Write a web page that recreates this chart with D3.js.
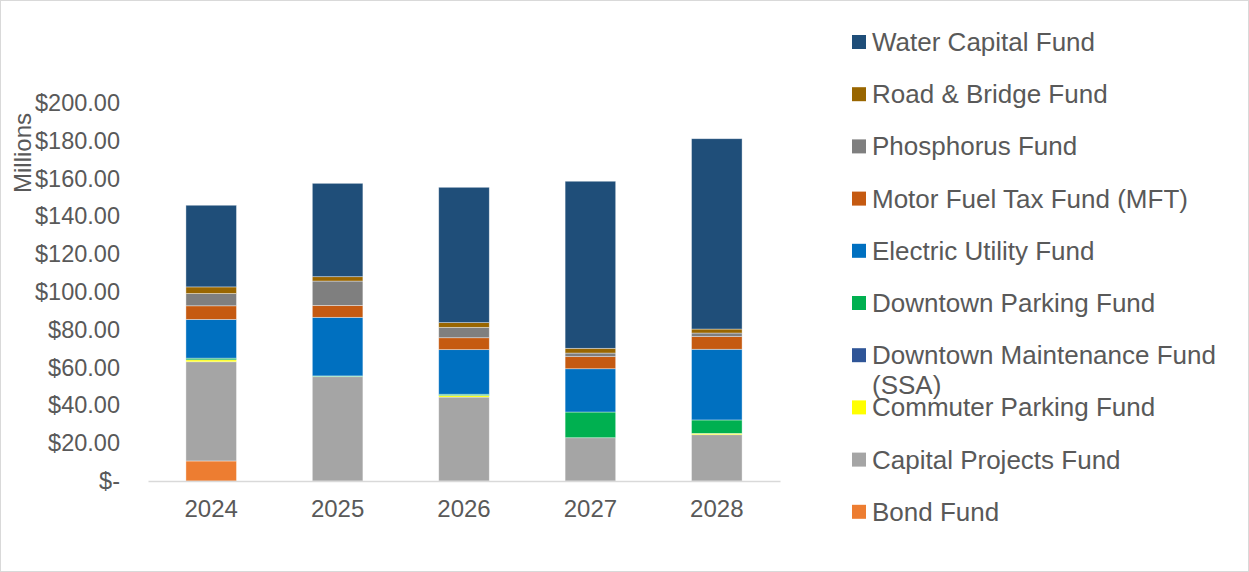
<!DOCTYPE html>
<html>
<head>
<meta charset="utf-8">
<script src="https://cdn.jsdelivr.net/npm/d3@7"></script>
<style>
  html, body { margin: 0; padding: 0; background: #fff; }
  svg { display: block; font-family: "Liberation Sans", Arial, sans-serif; }
</style>
</head>
<body>
<svg id="chart" width="1249" height="572"></svg>
<script>
// Fiscal years on the x axis
const years = ["2024", "2025", "2026", "2027", "2028"];

// Fund spending per year, in millions of dollars
const bondFund              = [10.6, 0, 0, 0, 0];
const capitalProjectsFund   = [52.5, 55.2, 44.4, 22.9, 24.5];
const commuterParkingFund   = [1.0, 0, 0.8, 0, 0.7];
const downtownMaintenance   = [0, 0, 0, 0, 0];
const downtownParkingFund   = [0.9, 0.4, 0.7, 13.6, 7.1];
const electricUtilityFund   = [20.5, 31.0, 23.6, 22.9, 37.4];
const motorFuelTaxFund      = [7.2, 6.3, 6.3, 6.4, 6.7];
const phosphorusFund        = [6.5, 12.9, 5.5, 1.9, 1.9];
const roadBridgeFund        = [3.5, 2.3, 2.5, 2.5, 2.1];
const waterCapitalFund      = [43.2, 49.4, 71.6, 88.4, 100.7];

// Y axis tick values
const yTicks = [0, 20, 40, 60, 80, 100, 120, 140, 160, 180, 200];

// Stack order, bottom to top
const series = [
  { name: "Bond Fund", values: bondFund, color: "#ED7D31" },
  { name: "Capital Projects Fund", values: capitalProjectsFund, color: "#A5A5A5" },
  { name: "Commuter Parking Fund", values: commuterParkingFund, color: "#FFFF00" },
  { name: "Downtown Maintenance Fund (SSA)", values: downtownMaintenance, color: "#2F5597" },
  { name: "Downtown Parking Fund", values: downtownParkingFund, color: "#00B050" },
  { name: "Electric Utility Fund", values: electricUtilityFund, color: "#0070C0" },
  { name: "Motor Fuel Tax Fund (MFT)", values: motorFuelTaxFund, color: "#C55A11" },
  { name: "Phosphorus Fund", values: phosphorusFund, color: "#7F7F7F" },
  { name: "Road & Bridge Fund", values: roadBridgeFund, color: "#996600" },
  { name: "Water Capital Fund", values: waterCapitalFund, color: "#1F4E79" }
];

const rows = years.map((y, i) => {
  const r = { year: y };
  series.forEach(s => { r[s.name] = s.values[i]; });
  return r;
});

const svg = d3.select("#chart");
const W = 1249, H = 572;
const textColor = "#595959";

// Outer chart frame
svg.append("rect")
  .attr("x", 0.5).attr("y", 0.5)
  .attr("width", W - 1).attr("height", H - 1)
  .attr("fill", "#fff").attr("stroke", "#D9D9D9");

const plot = { left: 148, right: 780, top: 103, bottom: 481 };

const x = d3.scaleBand().domain(years)
  .range([plot.left, plot.right]).paddingInner(0.6).paddingOuter(0.3);
const y = d3.scaleLinear().domain([0, 200]).range([plot.bottom, plot.top]);

const stack = d3.stack().keys(series.map(s => s.name));
const layers = stack(rows);
const colorOf = new Map(series.map(s => [s.name, s.color]));

// Stacked bars
svg.append("g").selectAll("g")
  .data(layers)
  .join("g")
  .attr("fill", d => colorOf.get(d.key))
  .selectAll("rect")
  .data(d => d)
  .join("rect")
  .attr("x", d => x(d.data.year))
  .attr("width", x.bandwidth())
  .attr("y", d => y(d[1]))
  .attr("height", d => Math.max(0, y(d[0]) - y(d[1])))
  .attr("stroke", "#ffffff")
  .attr("stroke-opacity", 0.5)
  .attr("stroke-width", d => (y(d[0]) - y(d[1])) > 0 ? 0.75 : 0);

// X axis baseline and year labels
const xAxis = svg.append("g")
  .attr("transform", `translate(0,${plot.bottom})`)
  .call(d3.axisBottom(x).tickSize(0).tickPadding(19));
xAxis.select(".domain").attr("stroke", "#D9D9D9").attr("stroke-width", 1.5);
xAxis.selectAll("text")
  .attr("fill", textColor)
  .style("font-size", "24px");

// Y axis labels
const fmt = v => v === 0 ? "$-" : "$" + d3.format(",.2f")(v);
const yAxis = svg.append("g")
  .attr("transform", `translate(${plot.left - 28},0)`)
  .call(d3.axisLeft(y).tickValues(yTicks).tickFormat(fmt).tickSize(0).tickPadding(0));
yAxis.select(".domain").remove();
yAxis.selectAll("text")
  .attr("fill", textColor)
  .style("font-size", "23.5px");

// Y axis title
svg.append("text")
  .attr("transform", "translate(22,153) rotate(-90)")
  .attr("text-anchor", "middle")
  .attr("dominant-baseline", "central")
  .attr("fill", textColor)
  .style("font-size", "24px")
  .text("Millions");

// Legend, top entry is the top of the stack
const legendItems = series.slice().reverse();
const legend = svg.append("g");
const lx = 852, ly0 = 42, step = 52.2, legendFont = "26px";
legendItems.forEach((s, i) => {
  const cy = ly0 + i * step;
  const g = legend.append("g");
  g.append("rect")
    .attr("x", lx).attr("y", cy - 7)
    .attr("width", 14).attr("height", 14)
    .attr("fill", s.color);
  const t = g.append("text")
    .attr("x", lx + 20).attr("y", cy)
    .attr("dominant-baseline", "central")
    .attr("fill", textColor)
    .style("font-size", legendFont);
  if (s.name === "Downtown Maintenance Fund (SSA)") {
    t.text("Downtown Maintenance Fund");
    g.append("text")
      .attr("x", lx + 20).attr("y", cy + 30)
      .attr("dominant-baseline", "central")
      .attr("fill", textColor)
      .style("font-size", legendFont)
      .text("(SSA)");
  } else {
    t.text(s.name);
  }
});
</script>
</body>
</html>
